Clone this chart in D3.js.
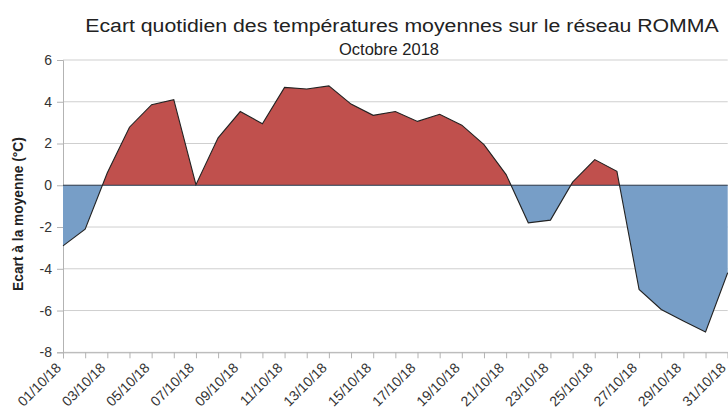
<!DOCTYPE html>
<html>
<head>
<meta charset="utf-8">
<script src="https://cdn.jsdelivr.net/npm/d3@7"></script>
<style>
  body { margin: 0; background: #fff; }
  svg { display: block; font-family: "Liberation Sans", Arial, sans-serif; }
</style>
</head>
<body>
<div id="chart"></div>
<script>
const days = d3.range(1, 32).map(d => String(d).padStart(2, '0') + '/10/18')
const ecart = [-2.9, -2.1, 0.6, 2.78, 3.86, 4.1, 0.03, 2.27, 3.53, 2.95,
    4.69, 4.61, 4.76, 3.89, 3.35, 3.53, 3.06, 3.4, 2.88, 1.95,
    0.51, -1.8, -1.67, 0.15, 1.23, 0.67, -4.99, -5.95, -6.5, -7.03, -4.19]
const yTicks = [-8, -6, -4, -2, 0, 2, 4, 6]

const WIDTH = 728
const HEIGHT = 416
const margin = { top: 60, right: 0.3, bottom: 63.7, left: 63 }
const RED = '#c0504d'
const BLUE = '#779ec7'

const svg = d3.select('#chart').append('svg')
    .attr('width', WIDTH)
    .attr('height', HEIGHT)

const x = d3.scalePoint()
    .domain(days)
    .range([margin.left, WIDTH - margin.right])

const y = d3.scaleLinear()
    .domain([-8, 6])
    .range([HEIGHT - margin.bottom, margin.top])

// title (the reference text is a bit wider than tall)
svg.append('text')
    .attr('transform', 'translate(402,32) scale(1.12,1)')
    .attr('text-anchor', 'middle')
    .attr('font-size', '19px')
    .attr('fill', '#222')
    .text('Ecart quotidien des températures moyennes sur le réseau ROMMA')
svg.append('text')
    .attr('x', 389).attr('y', 55)
    .attr('text-anchor', 'middle')
    .attr('font-size', '16.5px')
    .attr('fill', '#222')
    .text('Octobre 2018')

// grid
svg.append('g')
    .selectAll('line')
    .data(yTicks)
    .join('line')
    .attr('x1', margin.left).attr('x2', WIDTH - margin.right)
    .attr('y1', d => y(d)).attr('y2', d => y(d))
    .attr('stroke', '#cfcfcf')
    .attr('stroke-width', 1)

// y axis
const yAxis = svg.append('g')
    .attr('transform', `translate(${margin.left},0)`)
    .call(d3.axisLeft(y).tickValues(yTicks).tickSize(6).tickPadding(5).tickFormat(d3.format('d')))
yAxis.select('.domain').attr('stroke', '#b3b3b3')
yAxis.selectAll('.tick line').attr('stroke', '#b3b3b3')
yAxis.selectAll('.tick text')
    .attr('font-size', '14px')
    .attr('font-family', '"Liberation Sans", Arial, sans-serif')
    .attr('fill', '#333')
    .text(d => d < 0 ? '-' + Math.abs(d) : d)

// areas, split at zero with two clips
const defs = svg.append('defs')
defs.append('clipPath').attr('id', 'clip-pos')
    .append('rect')
    .attr('x', 0).attr('y', 0)
    .attr('width', WIDTH).attr('height', y(0))
defs.append('clipPath').attr('id', 'clip-neg')
    .append('rect')
    .attr('x', 0).attr('y', y(0))
    .attr('width', WIDTH).attr('height', HEIGHT - y(0))

const area = d3.area()
    .x((d, i) => x(days[i]))
    .y0(y(0))
    .y1(d => y(d))

svg.append('path')
    .datum(ecart)
    .attr('clip-path', 'url(#clip-pos)')
    .attr('fill', RED)
    .attr('d', area)
svg.append('path')
    .datum(ecart)
    .attr('clip-path', 'url(#clip-neg)')
    .attr('fill', BLUE)
    .attr('d', area)

// zero line
svg.append('line')
    .attr('x1', margin.left).attr('x2', WIDTH - margin.right)
    .attr('y1', y(0)).attr('y2', y(0))
    .attr('stroke', '#2c3e50')
    .attr('stroke-width', 1.2)

// outline
const line = d3.line()
    .x((d, i) => x(days[i]))
    .y(d => y(d))
svg.append('path')
    .datum(ecart)
    .attr('fill', 'none')
    .attr('stroke', '#222')
    .attr('stroke-width', 1.1)
    .attr('d', line)

// x axis
const xAxis = svg.append('g')
    .attr('transform', `translate(0,${y(-8)})`)
    .call(d3.axisBottom(x).tickSize(6))
xAxis.select('.domain').attr('stroke', '#b3b3b3')
xAxis.selectAll('.tick line').attr('stroke', '#b3b3b3')
xAxis.selectAll('.tick text')
    .attr('font-size', '14px')
    .attr('font-family', '"Liberation Sans", Arial, sans-serif')
    .attr('fill', '#333')
    .attr('text-anchor', 'end')
    .attr('x', 0)
    .attr('y', 0)
    .attr('dy', '0.35em')
    .attr('transform', 'translate(-5,13) rotate(-45)')
    .style('display', (d, i) => i % 2 === 0 ? null : 'none')

// y axis title
svg.append('text')
    .attr('transform', `translate(23,214) rotate(-90)`)
    .attr('text-anchor', 'middle')
    .attr('font-size', '13.75px')
    .attr('font-weight', 'bold')
    .attr('fill', '#222')
    .text('Ecart à la moyenne (°C)')
</script>
</body>
</html>
